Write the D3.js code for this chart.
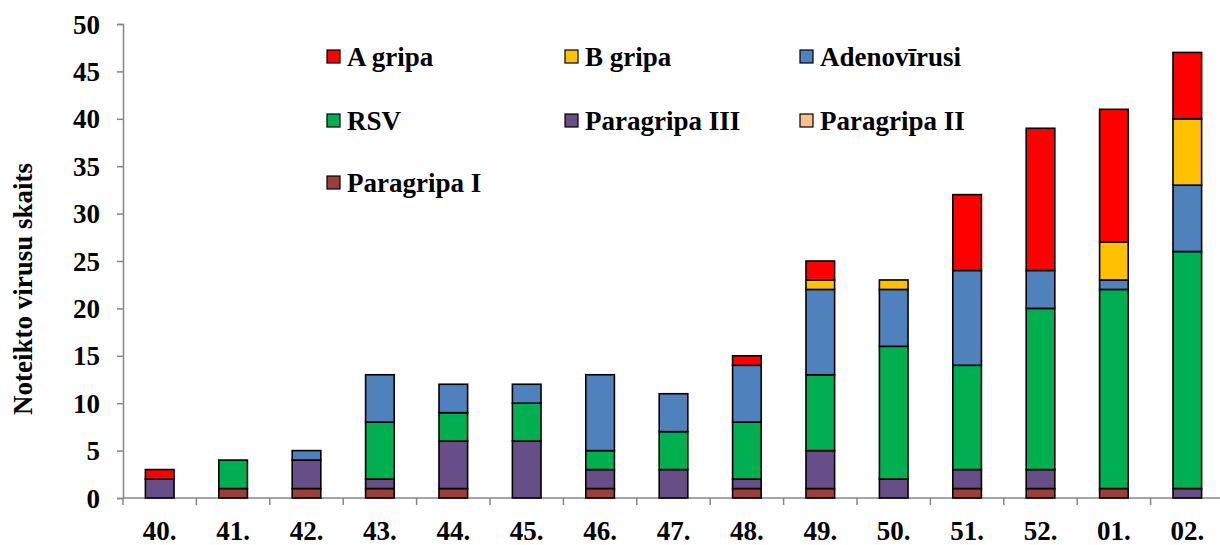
<!DOCTYPE html>
<html><head><meta charset="utf-8">
<script src="https://cdn.jsdelivr.net/npm/d3@7"></script>
<style>
html,body{margin:0;padding:0;background:#fff;}
svg{display:block;}
text{font-family:"Liberation Serif","Times New Roman",serif;font-weight:bold;fill:#000;}
</style></head>
<body><svg id="c" width="1220" height="545"></svg>
<script>
const categories = ["40.","41.","42.","43.","44.","45.","46.","47.","48.","49.","50.","51.","52.","01.","02."];
const seriesNames = ["Paragripa I","Paragripa III","Paragripa II","RSV","Adenovīrusi","B gripa","A gripa"];
const paragripaI   = [0,1,1,1,1,0,1,0,1,1,0,1,1,1,0];
const paragripaIII = [2,0,3,1,5,6,2,3,1,4,2,2,2,0,1];
const paragripaII  = [0,0,0,0,0,0,0,0,0,0,0,0,0,0,0];
const rsv          = [0,3,0,6,3,4,2,4,6,8,14,11,17,21,25];
const adeno        = [0,0,1,5,3,2,8,4,6,9,6,10,4,1,7];
const bGripa       = [0,0,0,0,0,0,0,0,0,1,1,0,0,4,7];
const aGripa       = [1,0,0,0,0,0,0,0,1,2,0,8,15,14,7];
const yTicks = [0,5,10,15,20,25,30,35,40,45,50];
const colors = ["#9B3F3B","#684E86","#F9BF8F","#00B050","#4F81BD","#FFC000","#FF0000"];
const legendOrder = ["A gripa","B gripa","Adenovīrusi","RSV","Paragripa III","Paragripa II","Paragripa I"];

const seriesValues = [paragripaI,paragripaIII,paragripaII,rsv,adeno,bGripa,aGripa];
const table = categories.map((c,i)=>{
  const o={cat:c};
  seriesNames.forEach((s,j)=>o[s]=seriesValues[j][i]);
  return o;
});

const svg = d3.select("#c");
const pLeft=123, pRight=1224, pTop=24, pBottom=498;
const x = d3.scaleBand().domain(categories).range([pLeft,pRight]).paddingInner(0.61).paddingOuter(0.305);
const y = d3.scaleLinear().domain([0,50]).range([pBottom,pTop]);
const color = d3.scaleOrdinal().domain(seriesNames).range(colors);

const stacked = d3.stack().keys(seriesNames)(table);

// axes
const yAxis = svg.append("g").attr("transform",`translate(${pLeft},0)`)
  .call(d3.axisLeft(y).tickValues(yTicks).tickSize(6).tickPadding(17).tickFormat(d3.format("d")));
yAxis.select(".domain").attr("stroke","#868686").attr("stroke-width",1.5);
yAxis.selectAll(".tick line").attr("stroke","#868686").attr("stroke-width",1.5);
yAxis.selectAll(".tick text").attr("font-size",27).attr("dy","0.34em");

const xg = svg.append("g").attr("transform",`translate(0,${pBottom})`);
xg.append("line").attr("x1",pLeft).attr("x2",pRight).attr("y1",0).attr("y2",0).attr("stroke","#868686").attr("stroke-width",1.5);
const bounds = categories.map(c=>x(c)-x.step()*x.paddingOuter()).concat([pRight]);
xg.selectAll("line.t").data(bounds).join("line").attr("class","t")
  .attr("x1",d=>d).attr("x2",d=>d).attr("y1",0).attr("y2",7).attr("stroke","#868686").attr("stroke-width",1.5);
xg.selectAll("text").data(categories).join("text")
  .attr("x",d=>x(d)+x.bandwidth()/2).attr("y",42).attr("text-anchor","middle").attr("font-size",27).text(d=>d);

// bars
svg.append("g").selectAll("g").data(stacked).join("g").attr("fill",d=>color(d.key))
  .selectAll("rect").data(d=>d.filter(p=>p[1]-p[0]>0)).join("rect")
  .attr("x",d=>x(d.data.cat)).attr("width",x.bandwidth())
  .attr("y",d=>y(d[1])).attr("height",d=>y(d[0])-y(d[1]))
  .attr("stroke","#000").attr("stroke-width",1.6);

// y title
svg.append("text").attr("transform","translate(32,289) rotate(-90)").attr("text-anchor","middle")
  .attr("font-size",27).text("Noteikto virusu skaits");

// legend
const colX=[327,565,800], rowY=[57,121,183];
const lg = svg.append("g").selectAll("g").data(legendOrder).join("g")
  .attr("transform",(d,i)=>`translate(${colX[i%3]},${rowY[Math.floor(i/3)]})`);
lg.append("rect").attr("x",0).attr("y",-7).attr("width",13).attr("height",13)
  .attr("fill",d=>color(d)).attr("stroke","#000").attr("stroke-width",1.2);
lg.append("text").attr("x",20).attr("y",0).attr("dy","0.34em").attr("font-size",27).text(d=>d);
</script></body></html>
